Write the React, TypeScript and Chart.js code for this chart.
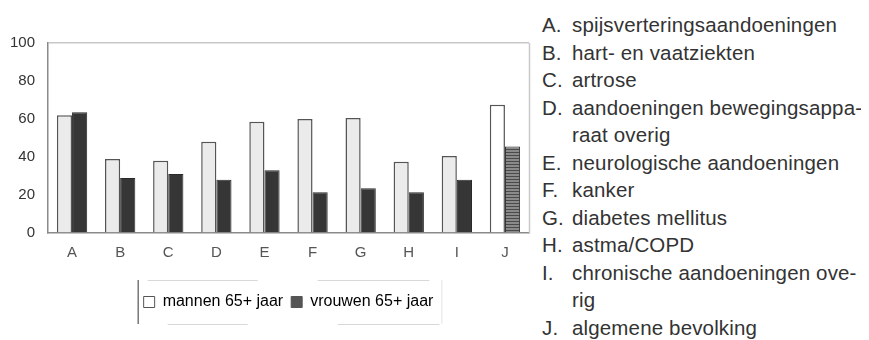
import React, { useEffect, useRef } from "react";
import { Chart, registerables } from "chart.js";

Chart.register(...registerables);

const categories = ["A", "B", "C", "D", "E", "F", "G", "H", "I", "J"];
const mannen = [62, 39, 38, 48, 58.5, 60, 60.5, 37.5, 40.5, 67.5];
const vrouwen = [63.5, 29, 31, 28, 33, 21.5, 23.5, 21.5, 28, 45.5];
const yTicks = [0, 20, 40, 60, 80, 100];
const seriesNames = ["mannen 65+ jaar", "vrouwen 65+ jaar"];

const descLetters = ["A.", "B.", "C.", "D.", "", "E.", "F.", "G.", "H.", "I.", "", "J."];
const descTexts = [
  "spijsverteringsaandoeningen",
  "hart- en vaatziekten",
  "artrose",
  "aandoeningen bewegingsappa-",
  "raat overig",
  "neurologische aandoeningen",
  "kanker",
  "diabetes mellitus",
  "astma/COPD",
  "chronische aandoeningen ove-",
  "rig",
  "algemene bevolking",
];

const FONT = '"Liberation Sans", Arial, Helvetica, sans-serif';

function makeStripePattern(): CanvasPattern | string {
  const c = document.createElement("canvas");
  c.width = 4;
  c.height = 3;
  const ctx = c.getContext("2d");
  if (!ctx) return "#666";
  ctx.fillStyle = "#8a8a8a";
  ctx.fillRect(0, 0, 4, 3);
  ctx.fillStyle = "#4a4a4a";
  ctx.fillRect(0, 0, 4, 1);
  const p = ctx.createPattern(c, "repeat");
  return p || "#666";
}

const framePlugin = {
  id: "frame",
  afterDraw(chart: any) {
    const { ctx, chartArea } = chart;
    ctx.save();
    ctx.strokeStyle = "#c8c8c8";
    ctx.lineWidth = 1.5;
    ctx.beginPath();
    ctx.moveTo(chartArea.right + 0.5, chartArea.top);
    ctx.lineTo(chartArea.right + 0.5, chartArea.bottom);
    ctx.stroke();
    const lg = chart.legend;
    if (lg && lg.legendHitBoxes && lg.legendHitBoxes.length) {
      const hb = lg.legendHitBoxes;
      const left = hb[0].left - 6;
      const top = hb[0].top - 14;
      const bottom = hb[0].top + hb[0].height + 14;
      const right = hb[hb.length - 1].left + hb[hb.length - 1].width + 6;
      ctx.strokeStyle = "#333";
      ctx.lineWidth = 1;
      ctx.beginPath();
      ctx.moveTo(left + 0.5, top);
      ctx.lineTo(left + 0.5, bottom);
      ctx.stroke();
      ctx.strokeStyle = "#d8d8d8";
      ctx.beginPath();
      ctx.moveTo(left + 10, top + 0.5);
      ctx.lineTo(left + 120, top + 0.5);
      ctx.moveTo(left + 180, top + 0.5);
      ctx.lineTo(right - 10, top + 0.5);
      ctx.moveTo(left + 30, bottom + 0.5);
      ctx.lineTo(left + 110, bottom + 0.5);
      ctx.moveTo(left + 200, bottom + 0.5);
      ctx.lineTo(right, bottom + 0.5);
      ctx.stroke();
      ctx.strokeStyle = "#e4e4e4";
      ctx.beginPath();
      ctx.moveTo(right + 2.5, top);
      ctx.lineTo(right + 2.5, bottom);
      ctx.stroke();
    }
    ctx.restore();
  },
};

function BarChart() {
  const ref = useRef<HTMLCanvasElement | null>(null);
  useEffect(() => {
    if (!ref.current) return;
    const stripe = makeStripePattern();
    const menBg = categories.map((c, i) => (i === categories.length - 1 ? "#ffffff" : "#ebebeb"));
    const womenBg = categories.map((c, i) => (i === categories.length - 1 ? stripe : "#363636"));
    const chart = new Chart(ref.current, {
      type: "bar",
      data: {
        labels: categories,
        datasets: [
          {
            label: seriesNames[0],
            data: mannen,
            backgroundColor: menBg as any,
            borderColor: "#555",
            borderWidth: 1.5,
            categoryPercentage: 0.63,
            barPercentage: 1,
          },
          {
            label: seriesNames[1],
            data: vrouwen,
            backgroundColor: womenBg as any,
            borderColor: "#2a2a2a",
            borderWidth: 1,
            categoryPercentage: 0.63,
            barPercentage: 1,
          },
        ],
      },
      options: {
        animation: false,
        responsive: false,
        maintainAspectRatio: false,
        layout: { padding: { top: 35, right: 9, left: 0, bottom: 8 } },
        plugins: {
          tooltip: { enabled: false },
          legend: {
            position: "bottom",
            fullSize: false,
            labels: {
              font: { family: FONT, size: 16 },
              color: "#333",
              boxWidth: 11,
              boxHeight: 11,
              padding: 8,
              generateLabels: () => [
                {
                  text: seriesNames[0],
                  fillStyle: "#ffffff",
                  strokeStyle: "#555",
                  lineWidth: 1,
                  datasetIndex: 0,
                  hidden: false,
                },
                {
                  text: seriesNames[1],
                  fillStyle: "#555",
                  strokeStyle: "#555",
                  lineWidth: 1,
                  datasetIndex: 1,
                  hidden: false,
                },
              ],
            },
          },
        },
        scales: {
          x: {
            grid: { display: false, drawTicks: false },
            border: { display: true, color: "#8a8a8a", width: 1.5 },
            ticks: {
              font: { family: FONT, size: 15 },
              color: "#555",
              padding: 11,
            },
            afterFit: (s: any) => {
              s.height = 53;
            },
          },
          y: {
            min: 0,
            max: 100,
            afterBuildTicks: (s: any) => {
              s.ticks = yTicks.map((v) => ({ value: v }));
            },
            grid: {
              drawTicks: false,
              color: (c: any) => (c.tick && c.tick.value === 100 ? "#c8c8c8" : "rgba(0,0,0,0)"),
              lineWidth: 1.5,
            },
            border: { display: true, color: "#8a8a8a", width: 1.5 },
            ticks: {
              font: { family: FONT, size: 15 },
              color: "#333",
              padding: 13,
            },
            afterFit: (s: any) => {
              s.width = 40;
            },
          },
        },
      },
      plugins: [framePlugin],
    });
    return () => chart.destroy();
  }, []);
  return <canvas ref={ref} width={530} height={320} style={{ display: "block" }} />;
}

export default function App() {
  return (
    <div style={{ position: "relative", width: 853, height: 332, fontFamily: FONT }}>
      <div style={{ position: "absolute", left: 0, top: 0, width: 530, height: 320 }}>
        <BarChart />
      </div>
      <div
        style={{
          position: "absolute",
          left: 534,
          top: 3,
          fontSize: 20.5,
          lineHeight: "27.5px",
          letterSpacing: "0.15px",
          color: "#333",
          whiteSpace: "nowrap",
        }}
      >
        {descTexts.map((t, i) => (
          <div key={i} style={{ display: "flex", height: 27.5 }}>
            <span style={{ width: 30, flex: "none", display: "inline-block" }}>{descLetters[i]}</span>
            <span style={{ flex: "none" }}>{t}</span>
          </div>
        ))}
      </div>
    </div>
  );
}
